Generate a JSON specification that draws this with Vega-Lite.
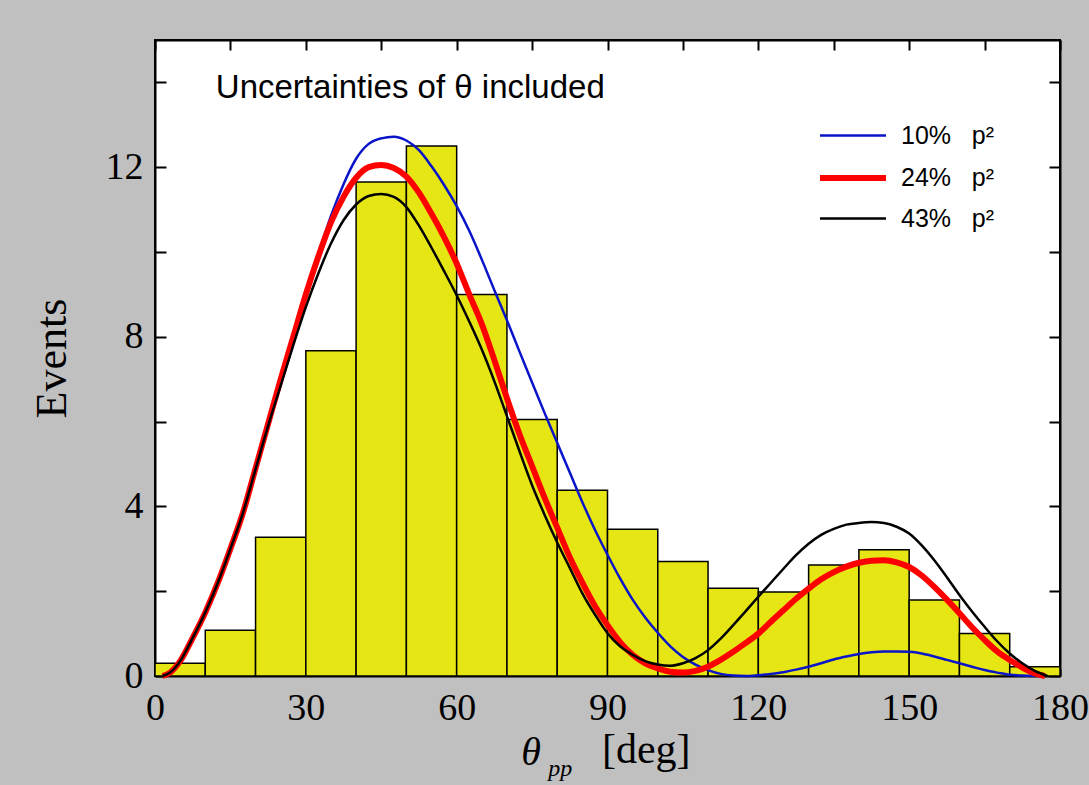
{
  "$schema": "https://vega.github.io/schema/vega-lite/v6.json",
  "width": 905,
  "height": 636,
  "autosize": "none",
  "padding": {"left": 155, "top": 40, "right": 29, "bottom": 109},
  "background": "#c0c0c0",
  "view": {"fill": "white", "stroke": "black", "strokeWidth": 2},
  "config": {
    "axis": {
      "grid": false,
      "domainColor": "black",
      "domainWidth": 2,
      "tickColor": "black",
      "tickWidth": 2,
      "labelColor": "black",
      "labelFont": "Liberation Serif",
      "labelFontSize": 38,
      "titleColor": "black"
    }
  },
  "datasets": {
    "bars": [
      {"start": 0, "end": 10, "count": 0.3},
      {"start": 10, "end": 20, "count": 1.08},
      {"start": 20, "end": 30, "count": 3.27},
      {"start": 30, "end": 40, "count": 7.67},
      {"start": 40, "end": 50, "count": 11.65},
      {"start": 50, "end": 60, "count": 12.5},
      {"start": 60, "end": 70, "count": 9.0},
      {"start": 70, "end": 80, "count": 6.05},
      {"start": 80, "end": 90, "count": 4.38},
      {"start": 90, "end": 100, "count": 3.46},
      {"start": 100, "end": 110, "count": 2.7},
      {"start": 110, "end": 120, "count": 2.07},
      {"start": 120, "end": 130, "count": 1.98},
      {"start": 130, "end": 140, "count": 2.62},
      {"start": 140, "end": 150, "count": 2.98},
      {"start": 150, "end": 160, "count": 1.79},
      {"start": 160, "end": 170, "count": 1.0},
      {"start": 170, "end": 180, "count": 0.22}
    ],
    "curves": [
      {"s": "10%  p²", "x": 1.5, "y": 0}, {"s": "10%  p²", "x": 3, "y": 0.08}, {"s": "10%  p²", "x": 5, "y": 0.35}, {"s": "10%  p²", "x": 7.5, "y": 0.9}, {"s": "10%  p²", "x": 10, "y": 1.5}, {"s": "10%  p²", "x": 12.5, "y": 2.2}, {"s": "10%  p²", "x": 15, "y": 3.0}, {"s": "10%  p²", "x": 17.5, "y": 3.85}, {"s": "10%  p²", "x": 20, "y": 4.9}, {"s": "10%  p²", "x": 22.5, "y": 5.95}, {"s": "10%  p²", "x": 25, "y": 7.0}, {"s": "10%  p²", "x": 27.5, "y": 8.0}, {"s": "10%  p²", "x": 30, "y": 9.0}, {"s": "10%  p²", "x": 32.5, "y": 9.95},
      {"s": "10%  p²", "x": 35, "y": 10.85}, {"s": "10%  p²", "x": 37.5, "y": 11.6}, {"s": "10%  p²", "x": 40, "y": 12.2}, {"s": "10%  p²", "x": 42.5, "y": 12.55}, {"s": "10%  p²", "x": 45, "y": 12.68}, {"s": "10%  p²", "x": 47.5, "y": 12.72}, {"s": "10%  p²", "x": 50, "y": 12.63}, {"s": "10%  p²", "x": 52.5, "y": 12.4}, {"s": "10%  p²", "x": 55, "y": 12.02}, {"s": "10%  p²", "x": 57.5, "y": 11.58}, {"s": "10%  p²", "x": 60, "y": 11.08}, {"s": "10%  p²", "x": 62.5, "y": 10.5}, {"s": "10%  p²", "x": 65, "y": 9.82}, {"s": "10%  p²", "x": 67.5, "y": 9.1}, {"s": "10%  p²", "x": 70, "y": 8.39}, {"s": "10%  p²", "x": 72.5, "y": 7.65}, {"s": "10%  p²", "x": 75, "y": 6.92}, {"s": "10%  p²", "x": 77.5, "y": 6.2}, {"s": "10%  p²", "x": 80, "y": 5.5}, {"s": "10%  p²", "x": 82.5, "y": 4.8}, {"s": "10%  p²", "x": 85, "y": 4.1}, {"s": "10%  p²", "x": 87.5, "y": 3.45}, {"s": "10%  p²", "x": 90, "y": 2.86}, {"s": "10%  p²", "x": 92.5, "y": 2.3}, {"s": "10%  p²", "x": 95, "y": 1.8}, {"s": "10%  p²", "x": 97.5, "y": 1.38}, {"s": "10%  p²", "x": 100, "y": 1.02}, {"s": "10%  p²", "x": 102.5, "y": 0.7}, {"s": "10%  p²", "x": 105, "y": 0.45}, {"s": "10%  p²", "x": 107.5, "y": 0.27}, {"s": "10%  p²", "x": 110, "y": 0.14}, {"s": "10%  p²", "x": 112.5, "y": 0.05}, {"s": "10%  p²", "x": 115, "y": 0.01}, {"s": "10%  p²", "x": 117.5, "y": 0}, {"s": "10%  p²", "x": 120, "y": 0.02}, {"s": "10%  p²", "x": 122.5, "y": 0.05}, {"s": "10%  p²", "x": 125, "y": 0.09}, {"s": "10%  p²", "x": 127.5, "y": 0.15}, {"s": "10%  p²", "x": 130, "y": 0.22}, {"s": "10%  p²", "x": 132.5, "y": 0.3}, {"s": "10%  p²", "x": 135, "y": 0.39}, {"s": "10%  p²", "x": 137.5, "y": 0.46}, {"s": "10%  p²", "x": 140, "y": 0.52}, {"s": "10%  p²", "x": 142.5, "y": 0.56}, {"s": "10%  p²", "x": 145, "y": 0.58}, {"s": "10%  p²", "x": 147.5, "y": 0.58}, {"s": "10%  p²", "x": 150, "y": 0.57}, {"s": "10%  p²", "x": 152.5, "y": 0.53}, {"s": "10%  p²", "x": 155, "y": 0.46}, {"s": "10%  p²", "x": 157.5, "y": 0.38}, {"s": "10%  p²", "x": 160, "y": 0.3}, {"s": "10%  p²", "x": 162.5, "y": 0.22}, {"s": "10%  p²", "x": 165, "y": 0.14}, {"s": "10%  p²", "x": 167.5, "y": 0.08}, {"s": "10%  p²", "x": 170, "y": 0.03}, {"s": "10%  p²", "x": 172.5, "y": 0.01}, {"s": "10%  p²", "x": 175, "y": 0},

      {"s": "24%  p²", "x": 1.5, "y": 0}, {"s": "24%  p²", "x": 3, "y": 0.08}, {"s": "24%  p²", "x": 5, "y": 0.35}, {"s": "24%  p²", "x": 7.5, "y": 0.9}, {"s": "24%  p²", "x": 10, "y": 1.5}, {"s": "24%  p²", "x": 12.5, "y": 2.2}, {"s": "24%  p²", "x": 15, "y": 3.0}, {"s": "24%  p²", "x": 17.5, "y": 3.85}, {"s": "24%  p²", "x": 20, "y": 4.9}, {"s": "24%  p²", "x": 22.5, "y": 5.95}, {"s": "24%  p²", "x": 25, "y": 7.0}, {"s": "24%  p²", "x": 27.5, "y": 8.0}, {"s": "24%  p²", "x": 30, "y": 9.0}, {"s": "24%  p²", "x": 32.5, "y": 9.9}, {"s": "24%  p²", "x": 35, "y": 10.7}, {"s": "24%  p²", "x": 37.5, "y": 11.3}, {"s": "24%  p²", "x": 40, "y": 11.75}, {"s": "24%  p²", "x": 42.5, "y": 12.0}, {"s": "24%  p²", "x": 45, "y": 12.05}, {"s": "24%  p²", "x": 47.5, "y": 11.98}, {"s": "24%  p²", "x": 50, "y": 11.78}, {"s": "24%  p²", "x": 52.5, "y": 11.4}, {"s": "24%  p²", "x": 55, "y": 10.9}, {"s": "24%  p²", "x": 57.5, "y": 10.35}, {"s": "24%  p²", "x": 60, "y": 9.73}, {"s": "24%  p²", "x": 62.5, "y": 9.0}, {"s": "24%  p²", "x": 65, "y": 8.3}, {"s": "24%  p²", "x": 67.5, "y": 7.45}, {"s": "24%  p²", "x": 70, "y": 6.55}, {"s": "24%  p²", "x": 72.5, "y": 5.7}, {"s": "24%  p²", "x": 75, "y": 4.95}, {"s": "24%  p²", "x": 77.5, "y": 4.2}, {"s": "24%  p²", "x": 80, "y": 3.5}, {"s": "24%  p²", "x": 82.5, "y": 2.8}, {"s": "24%  p²", "x": 85, "y": 2.2}, {"s": "24%  p²", "x": 87.5, "y": 1.65}, {"s": "24%  p²", "x": 90, "y": 1.2}, {"s": "24%  p²", "x": 92.5, "y": 0.8}, {"s": "24%  p²", "x": 95, "y": 0.5}, {"s": "24%  p²", "x": 97.5, "y": 0.3}, {"s": "24%  p²", "x": 100, "y": 0.18}, {"s": "24%  p²", "x": 102.5, "y": 0.1}, {"s": "24%  p²", "x": 105, "y": 0.08}, {"s": "24%  p²", "x": 107.5, "y": 0.12}, {"s": "24%  p²", "x": 110, "y": 0.22}, {"s": "24%  p²", "x": 112.5, "y": 0.38}, {"s": "24%  p²", "x": 115, "y": 0.57}, {"s": "24%  p²", "x": 117.5, "y": 0.78}, {"s": "24%  p²", "x": 120, "y": 1.0}, {"s": "24%  p²", "x": 122.5, "y": 1.28}, {"s": "24%  p²", "x": 125, "y": 1.55}, {"s": "24%  p²", "x": 127.5, "y": 1.82}, {"s": "24%  p²", "x": 130, "y": 2.06}, {"s": "24%  p²", "x": 132.5, "y": 2.28}, {"s": "24%  p²", "x": 135, "y": 2.45}, {"s": "24%  p²", "x": 137.5, "y": 2.58}, {"s": "24%  p²", "x": 140, "y": 2.67}, {"s": "24%  p²", "x": 142.5, "y": 2.72}, {"s": "24%  p²", "x": 145, "y": 2.73}, {"s": "24%  p²", "x": 147.5, "y": 2.68}, {"s": "24%  p²", "x": 150, "y": 2.57}, {"s": "24%  p²", "x": 152.5, "y": 2.37}, {"s": "24%  p²", "x": 155, "y": 2.1}, {"s": "24%  p²", "x": 157.5, "y": 1.8}, {"s": "24%  p²", "x": 160, "y": 1.48}, {"s": "24%  p²", "x": 162.5, "y": 1.15}, {"s": "24%  p²", "x": 165, "y": 0.85}, {"s": "24%  p²", "x": 167.5, "y": 0.58}, {"s": "24%  p²", "x": 170, "y": 0.38}, {"s": "24%  p²", "x": 172.5, "y": 0.2}, {"s": "24%  p²", "x": 175, "y": 0.06}, {"s": "24%  p²", "x": 177, "y": 0},

      {"s": "43%  p²", "x": 1.5, "y": 0}, {"s": "43%  p²", "x": 3, "y": 0.08}, {"s": "43%  p²", "x": 5, "y": 0.35}, {"s": "43%  p²", "x": 7.5, "y": 0.9}, {"s": "43%  p²", "x": 10, "y": 1.5}, {"s": "43%  p²", "x": 12.5, "y": 2.2}, {"s": "43%  p²", "x": 15, "y": 3.0}, {"s": "43%  p²", "x": 17.5, "y": 3.85}, {"s": "43%  p²", "x": 20, "y": 4.88}, {"s": "43%  p²", "x": 22.5, "y": 5.9}, {"s": "43%  p²", "x": 25, "y": 6.85}, {"s": "43%  p²", "x": 27.5, "y": 7.8}, {"s": "43%  p²", "x": 30, "y": 8.7}, {"s": "43%  p²", "x": 32.5, "y": 9.5}, {"s": "43%  p²", "x": 35, "y": 10.2}, {"s": "43%  p²", "x": 37.5, "y": 10.75}, {"s": "43%  p²", "x": 40, "y": 11.12}, {"s": "43%  p²", "x": 42.5, "y": 11.32}, {"s": "43%  p²", "x": 45, "y": 11.37}, {"s": "43%  p²", "x": 47.5, "y": 11.3}, {"s": "43%  p²", "x": 50, "y": 11.06}, {"s": "43%  p²", "x": 52.5, "y": 10.62}, {"s": "43%  p²", "x": 55, "y": 10.1}, {"s": "43%  p²", "x": 57.5, "y": 9.55}, {"s": "43%  p²", "x": 60, "y": 8.98}, {"s": "43%  p²", "x": 62.5, "y": 8.36}, {"s": "43%  p²", "x": 65, "y": 7.7}, {"s": "43%  p²", "x": 67.5, "y": 6.95}, {"s": "43%  p²", "x": 70, "y": 6.13}, {"s": "43%  p²", "x": 72.5, "y": 5.3}, {"s": "43%  p²", "x": 75, "y": 4.5}, {"s": "43%  p²", "x": 77.5, "y": 3.8}, {"s": "43%  p²", "x": 80, "y": 3.15}, {"s": "43%  p²", "x": 82.5, "y": 2.55}, {"s": "43%  p²", "x": 85, "y": 1.95}, {"s": "43%  p²", "x": 87.5, "y": 1.45}, {"s": "43%  p²", "x": 90, "y": 1.01}, {"s": "43%  p²", "x": 92.5, "y": 0.7}, {"s": "43%  p²", "x": 95, "y": 0.5}, {"s": "43%  p²", "x": 97.5, "y": 0.35}, {"s": "43%  p²", "x": 100, "y": 0.27}, {"s": "43%  p²", "x": 102.5, "y": 0.24}, {"s": "43%  p²", "x": 105, "y": 0.3}, {"s": "43%  p²", "x": 107.5, "y": 0.42}, {"s": "43%  p²", "x": 110, "y": 0.61}, {"s": "43%  p²", "x": 112.5, "y": 0.88}, {"s": "43%  p²", "x": 115, "y": 1.2}, {"s": "43%  p²", "x": 117.5, "y": 1.53}, {"s": "43%  p²", "x": 120, "y": 1.87}, {"s": "43%  p²", "x": 122.5, "y": 2.2}, {"s": "43%  p²", "x": 125, "y": 2.53}, {"s": "43%  p²", "x": 127.5, "y": 2.85}, {"s": "43%  p²", "x": 130, "y": 3.12}, {"s": "43%  p²", "x": 132.5, "y": 3.33}, {"s": "43%  p²", "x": 135, "y": 3.47}, {"s": "43%  p²", "x": 137.5, "y": 3.57}, {"s": "43%  p²", "x": 140, "y": 3.61}, {"s": "43%  p²", "x": 142.5, "y": 3.63}, {"s": "43%  p²", "x": 145, "y": 3.61}, {"s": "43%  p²", "x": 147.5, "y": 3.52}, {"s": "43%  p²", "x": 150, "y": 3.36}, {"s": "43%  p²", "x": 152.5, "y": 3.08}, {"s": "43%  p²", "x": 155, "y": 2.73}, {"s": "43%  p²", "x": 157.5, "y": 2.33}, {"s": "43%  p²", "x": 160, "y": 1.91}, {"s": "43%  p²", "x": 162.5, "y": 1.52}, {"s": "43%  p²", "x": 165, "y": 1.16}, {"s": "43%  p²", "x": 167.5, "y": 0.82}, {"s": "43%  p²", "x": 170, "y": 0.53}, {"s": "43%  p²", "x": 172.5, "y": 0.3}, {"s": "43%  p²", "x": 175, "y": 0.12}, {"s": "43%  p²", "x": 177.5, "y": 0}
    ]
  },
  "layer": [
    {
      "data": {"name": "bars"},
      "mark": {"type": "rect", "fill": "#e6e614", "stroke": "black", "strokeWidth": 1.5},
      "encoding": {
        "x": {
          "field": "start", "type": "quantitative",
          "scale": {"domain": [0, 180], "nice": false, "zero": false},
          "axis": {
            "orient": "bottom", "title": null,
            "values": [0, 15, 30, 45, 60, 75, 90, 105, 120, 135, 150, 165, 180],
            "labelExpr": "datum.value % 30 === 0 ? datum.label : ''",
            "tickSize": -7, "labelPadding": 20, "labelFlush": false, "labelOverlap": false
          }
        },
        "x2": {"field": "end"},
        "y": {
          "field": "count", "type": "quantitative",
          "scale": {"domain": [0, 15], "nice": false},
          "axis": {
            "orient": "left", "title": "Events",
            "values": [0, 2, 4, 6, 8, 10, 12, 14],
            "labelExpr": "datum.value % 4 === 0 && datum.value < 14 ? datum.label : ''",
            "tickSize": -11, "labelPadding": 23, "labelFlush": false, "labelOverlap": false,
            "titleFont": "Liberation Serif", "titleFontSize": 44, "titleFontWeight": "normal",
            "titlePadding": 31
          }
        },
        "y2": {"datum": 0}
      }
    },
    {
      "data": {"name": "curves"},
      "mark": {"type": "line", "interpolate": "monotone"},
      "encoding": {
        "x": {
          "field": "x", "type": "quantitative",
          "axis": {
            "orient": "top", "title": null, "labels": false,
            "values": [0, 15, 30, 45, 60, 75, 90, 105, 120, 135, 150, 165, 180],
            "tickSize": -10
          }
        },
        "y": {
          "field": "y", "type": "quantitative",
          "axis": {
            "orient": "right", "title": null, "labels": false,
            "values": [0, 2, 4, 6, 8, 10, 12, 14],
            "tickSize": -11
          }
        },
        "color": {
          "field": "s", "type": "nominal",
          "scale": {"domain": ["10%  p²", "24%  p²", "43%  p²"], "range": ["#0a14c8", "#ff0000", "#000000"]},
          "legend": {
            "orient": "none", "legendX": 684, "legendY": 83, "title": null,
            "symbolType": "M-3,0H3", "symbolSize": 484,
            "labelExpr": "replace(datum.label, '  ', '\u00a0\u00a0\u00a0')",
            "labelFont": "Liberation Sans", "labelFontSize": 25, "labelColor": "black",
            "labelOffset": 34, "rowPadding": 15, "padding": 0
          }
        },
        "strokeWidth": {
          "field": "s", "type": "nominal",
          "scale": {"type": "ordinal", "domain": ["10%  p²", "24%  p²", "43%  p²"], "range": [2.5, 6, 2.5]},
          "legend": null
        }
      }
    },
    {
      "data": {"values": [{}]},
      "mark": {"type": "text", "text": "Uncertainties of θ included", "font": "Liberation Sans", "fontSize": 33, "align": "left", "baseline": "alphabetic", "color": "black"},
      "encoding": {
        "x": {"datum": 12.1, "type": "quantitative", "axis": null},
        "y": {"datum": 13.64, "type": "quantitative", "axis": null}
      }
    },
    {
      "data": {"values": [{}]},
      "mark": {"type": "text", "text": "θ", "font": "Liberation Serif", "fontStyle": "italic", "fontSize": 40, "align": "center", "baseline": "alphabetic", "color": "black"},
      "encoding": {
        "x": {"datum": 74.8, "type": "quantitative", "axis": null},
        "y": {"datum": -2.09, "type": "quantitative", "axis": null}
      }
    },
    {
      "data": {"values": [{}]},
      "mark": {"type": "text", "text": "pp", "font": "Liberation Serif", "fontStyle": "italic", "fontSize": 24, "align": "left", "baseline": "alphabetic", "color": "black"},
      "encoding": {
        "x": {"datum": 78.2, "type": "quantitative", "axis": null},
        "y": {"datum": -2.36, "type": "quantitative", "axis": null}
      }
    },
    {
      "data": {"values": [{}]},
      "mark": {"type": "text", "text": "[deg]", "font": "Liberation Serif", "fontSize": 42, "align": "left", "baseline": "alphabetic", "color": "black"},
      "encoding": {
        "x": {"datum": 88.9, "type": "quantitative", "axis": null},
        "y": {"datum": -2.05, "type": "quantitative", "axis": null}
      }
    }
  ]
}
